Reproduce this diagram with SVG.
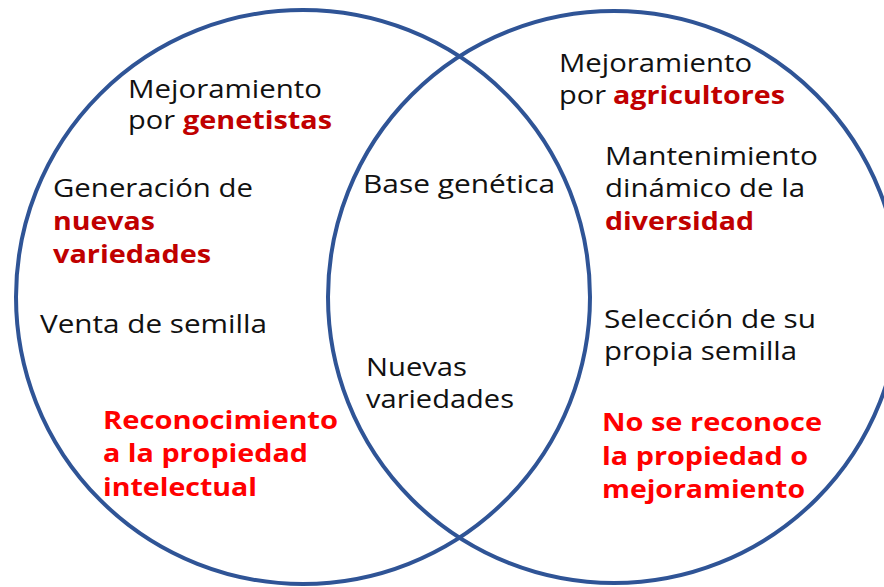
<svg xmlns="http://www.w3.org/2000/svg" width="884" height="587" viewBox="0 0 884 587">
<style>
.c{fill:none;stroke:#2F5496;stroke-width:4}
text{font-family:"Open Sans","Noto Sans","DejaVu Sans",sans-serif;font-size:25px;fill:#111}
.b{font-weight:700}
.dr{fill:#C00000}
.r{fill:#FF0000}
</style>
<rect width="884" height="587" fill="#ffffff"/>
<g id="circle-left"><circle class="c" cx="303" cy="297" r="287"/></g>
<g id="circle-right"><circle class="c" cx="614" cy="297" r="286"/></g>
<g id="connectors"></g>
<g id="label-genetistas">
<text x="128" y="98" textLength="194" lengthAdjust="spacingAndGlyphs">Mejoramiento</text>
<text x="128" y="129" textLength="47" lengthAdjust="spacingAndGlyphs">por</text>
<text class="b dr" x="183" y="129" textLength="149" lengthAdjust="spacingAndGlyphs">genetistas</text>
</g>
<g id="label-generacion">
<text x="53" y="197" textLength="200" lengthAdjust="spacingAndGlyphs">Generación de</text>
<text class="b dr" x="53" y="230" textLength="102" lengthAdjust="spacingAndGlyphs">nuevas</text>
<text class="b dr" x="53" y="263" textLength="158" lengthAdjust="spacingAndGlyphs">variedades</text>
</g>
<g id="label-venta">
<text x="40" y="333" textLength="227" lengthAdjust="spacingAndGlyphs">Venta de semilla</text>
</g>
<g id="label-reconocimiento">
<text class="b r" x="103" y="429" textLength="235" lengthAdjust="spacingAndGlyphs">Reconocimiento</text>
<text class="b r" x="103" y="462" textLength="205" lengthAdjust="spacingAndGlyphs">a la propiedad</text>
<text class="b r" x="103" y="496" textLength="154" lengthAdjust="spacingAndGlyphs">intelectual</text>
</g>
<g id="label-base">
<text x="363" y="193" textLength="192" lengthAdjust="spacingAndGlyphs">Base genética</text>
</g>
<g id="label-nuevas">
<text x="366" y="376" textLength="101" lengthAdjust="spacingAndGlyphs">Nuevas</text>
<text x="366" y="408" textLength="148" lengthAdjust="spacingAndGlyphs">variedades</text>
</g>
<g id="label-agricultores">
<text x="559" y="72" textLength="193" lengthAdjust="spacingAndGlyphs">Mejoramiento</text>
<text x="559" y="104" textLength="47" lengthAdjust="spacingAndGlyphs">por</text>
<text class="b dr" x="613" y="104" textLength="172" lengthAdjust="spacingAndGlyphs">agricultores</text>
</g>
<g id="label-mantenimiento">
<text x="605" y="165" textLength="213" lengthAdjust="spacingAndGlyphs">Mantenimiento</text>
<text x="605" y="197" textLength="200" lengthAdjust="spacingAndGlyphs">dinámico de la</text>
<text class="b dr" x="605" y="230" textLength="149" lengthAdjust="spacingAndGlyphs">diversidad</text>
</g>
<g id="label-seleccion">
<text x="604" y="328" textLength="212" lengthAdjust="spacingAndGlyphs">Selección de su</text>
<text x="604" y="360" textLength="193" lengthAdjust="spacingAndGlyphs">propia semilla</text>
</g>
<g id="label-no-reconoce">
<text class="b r" x="602" y="431" textLength="220" lengthAdjust="spacingAndGlyphs">No se reconoce</text>
<text class="b r" x="602" y="465" textLength="206" lengthAdjust="spacingAndGlyphs">la propiedad o</text>
<text class="b r" x="602" y="498" textLength="203" lengthAdjust="spacingAndGlyphs">mejoramiento</text>
</g>
</svg>
